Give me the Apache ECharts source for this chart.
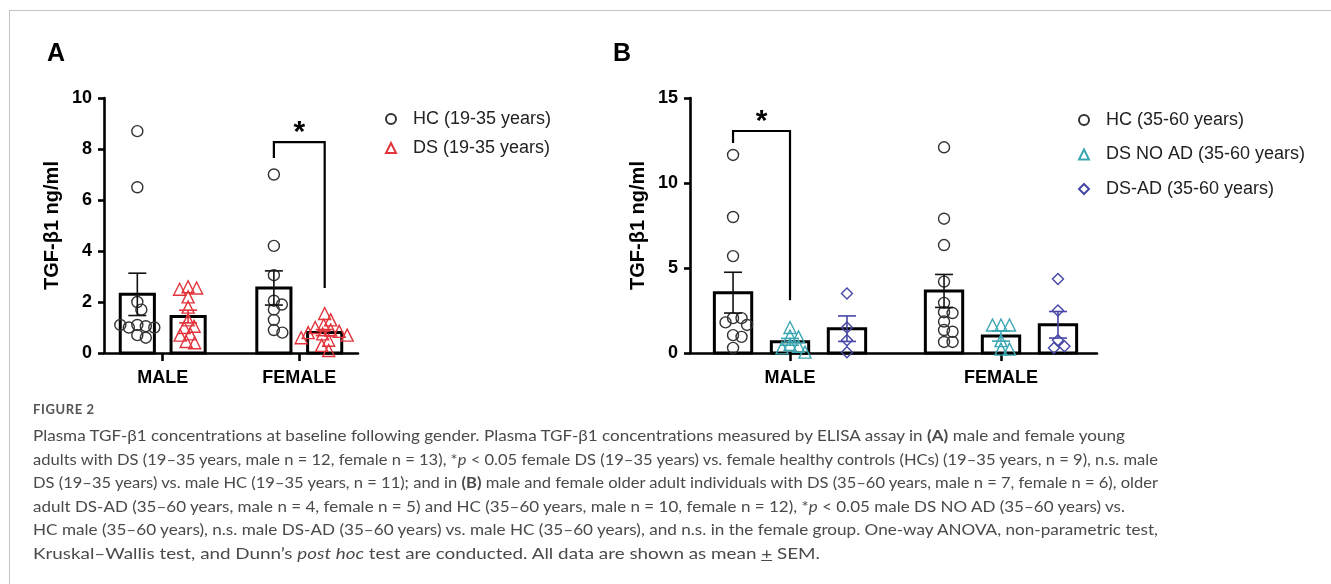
<!DOCTYPE html>
<html><head><meta charset="utf-8">
<script src="https://cdn.jsdelivr.net/npm/echarts@6/dist/echarts.min.js"></script>
<style>
html,body{margin:0;padding:0;background:#fff;}
#wrap{position:relative;width:1331px;height:584px;overflow:hidden;background:#fff;}
#frame{position:absolute;left:9px;top:10px;width:1400px;height:700px;border-top:1.5px solid #c4c4c4;border-left:1.5px solid #c4c4c4;}
#chart{position:absolute;left:0;top:0;width:1331px;height:584px;}
#caption{position:absolute;left:33px;top:399px;font-family:Lato,'Noto Sans',sans-serif;color:#4a4a4a;}
#caption .fig{font-size:13px;letter-spacing:0.6px;font-weight:bold;color:#555;height:24px;line-height:20px;}
#caption .ln{font-size:16px;line-height:23.5px;white-space:nowrap;transform-origin:0 50%;display:block;width:max-content;font-variant-ligatures:none;}
</style></head>
<body><div id="wrap"><div id="frame"></div><div id="chart"></div>
<div id="caption">
<div class="fig">FIGURE 2</div>
<span class="ln">Plasma TGF-β1 concentrations at baseline following gender. Plasma TGF-β1 concentrations measured by ELISA assay in <b>(A)</b> male and female young</span>
<span class="ln">adults with DS (19–35 years, male n = 12, female n = 13), *<i>p</i> &lt; 0.05 female DS (19–35 years) vs. female healthy controls (HCs) (19–35 years, n = 9), n.s. male</span>
<span class="ln">DS (19–35 years) vs. male HC (19–35 years, n = 11); and in <b>(B)</b> male and female older adult individuals with DS (35–60 years, male n = 7, female n = 6), older</span>
<span class="ln">adult DS-AD (35–60 years, male n = 4, female n = 5) and HC (35–60 years, male n = 10, female n = 12), *<i>p</i> &lt; 0.05 male DS NO AD (35–60 years) vs.</span>
<span class="ln">HC male (35–60 years), n.s. male DS-AD (35–60 years) vs. male HC (35–60 years), and n.s. in the female group. One-way ANOVA, non-parametric test,</span>
<span class="ln">Kruskal–Wallis test, and Dunn’s <i>post hoc</i> test are conducted. All data are shown as mean <u>+</u> SEM.</span>
</div></div>
<script>
// ---------------- DATA ----------------
const categories = ['MALE', 'FEMALE'];
const legendA = ['HC (19-35 years)', 'DS (19-35 years)'];
const legendB = ['HC (35-60 years)', 'DS NO AD (35-60 years)', 'DS-AD (35-60 years)'];
const yTicksA = [0, 2, 4, 6, 8, 10];
const yTicksB = [0, 5, 10, 15];
const yTitle = 'TGF-β1 ng/ml';

// Panel A individual values [MALE, FEMALE]
const aHC = [[8.7, 6.5, 2.0, 1.7, 1.1, 1.05, 1.0, 1.0, 1.1, 0.7, 0.6],
             [7.0, 4.2, 3.05, 2.05, 1.9, 1.7, 1.3, 0.9, 0.8]];
const aDS = [[2.6, 2.55, 2.5, 2.2, 1.8, 1.3, 1.05, 1.0, 0.75, 0.7, 0.45, 0.4],
             [1.55, 1.3, 1.1, 1.0, 0.9, 0.85, 0.8, 0.75, 0.7, 0.6, 0.5, 0.3, 0.1]];
const aHCMean = [2.3, 2.55], aHCSem = [0.83, 0.67];
const aDSMean = [1.43, 0.8], aDSSem = [0.25, 0.12];

// Panel B individual values [MALE, FEMALE]
const bHC = [[11.65, 8.0, 5.7, 2.05, 2.05, 1.8, 1.65, 1.05, 0.95, 0.3],
             [12.1, 7.9, 6.35, 4.2, 2.95, 2.4, 2.35, 1.85, 1.35, 1.25, 0.65, 0.65]];
const bNoAD = [[1.5, 1.0, 0.95, 0.5, 0.4, 0.3, 0.05],
               [1.65, 1.65, 1.65, 0.73, 0.23, 0.23]];
const bAD = [[3.5, 1.5, 0.75, 0.05],
             [4.35, 2.5, 0.75, 0.4, 0.3]];
const bHCMean = [3.55, 3.65], bHCSem = [1.2, 0.97];
const bNoADMean = [0.66, 1.0], bNoADSem = [0.2, 0.3];
const bADMean = [1.43, 1.66], bADSem = [0.75, 0.78];

// significance brackets: [category, group from, group to, bracket y, left end y, right end y]
const sigA = [1, 0, 1, 8.27, 7.65, 2.55];
const sigB = [0, 0, 1, 13.06, 12.35, 3.1];
const sigLabel = '*';

// ---------------- LAYOUT / STYLE ----------------
const FONT = "'Liberation Sans', Arial, sans-serif";
const gA = {left: 104, top: 98, width: 254, height: 255, xmin: -0.43, xmax: 1.43, ymax: 10, interval: 2,
            offsets: [-0.186, 0.186], bw: 0.25};
const gB = {left: 690, top: 98, width: 407, height: 255, xmin: -0.474, xmax: 1.455, ymax: 15, interval: 5,
            offsets: [-0.27, 0, 0.27], bw: 0.177};

function swarm(vals, pxX, pxY, dia) {
  const placed = [];
  return vals.map(v => {
    const y = v * pxY;
    let best = 0;
    for (let k = 0; k < 400; k++) {
      const o = (k % 2 ? 1 : -1) * Math.ceil(k / 2) * 0.5;
      if (placed.every(p => Math.hypot(p.x - o, p.y - y) >= dia)) { best = o; break; }
    }
    placed.push({x: best, y: y});
    return best / pxX;
  });
}

const series = [];
function addGroup(g, gi, name, pts, means, sems, gIdx, sym, color, size) {
  const pxX = g.width / (g.xmax - g.xmin), pxY = g.height / g.ymax;
  const off = g.offsets[gIdx];
  series.push({
    type: 'custom', xAxisIndex: gi, yAxisIndex: gi, z: 2, silent: true,
    data: means.map((m, i) => [i, m]),
    renderItem: (params, api) => {
      const c = api.value(0) + off, m = api.value(1);
      const p0 = api.coord([c - g.bw / 2, m]), p1 = api.coord([c + g.bw / 2, 0]);
      return {type: 'rect', shape: {x: p0[0], y: p0[1], width: p1[0] - p0[0], height: p1[1] - p0[1]},
              style: {fill: '#fff', stroke: '#000', lineWidth: 3}};
    }
  });
  const data = [];
  pts.forEach((arr, ci) => {
    const jit = swarm(arr, pxX, pxY, 8.5);
    arr.forEach((v, j) => data.push([ci + off + jit[j], v]));
  });
  series.push({
    type: 'scatter', name: name, xAxisIndex: gi, yAxisIndex: gi, z: 3, silent: true,
    symbol: sym, symbolSize: size, data: data,
    itemStyle: {color: 'rgba(255,255,255,0)', borderColor: color, borderWidth: 1.4, opacity: 1}
  });
  const ecol = gIdx === 0 ? '#111' : color;
  series.push({
    type: 'custom', xAxisIndex: gi, yAxisIndex: gi, z: 4, silent: true,
    data: means.map((m, i) => [i, m, sems[i]]),
    renderItem: (params, api) => {
      const c = api.value(0) + off, m = api.value(1), s = api.value(2);
      const t = api.coord([c, m + s]), b = api.coord([c, m - s]);
      const hw = 9;
      const ls = {stroke: ecol, lineWidth: 1.6};
      return {type: 'group', children: [
        {type: 'line', shape: {x1: t[0], y1: t[1], x2: b[0], y2: b[1]}, style: ls},
        {type: 'line', shape: {x1: t[0] - hw, y1: t[1], x2: t[0] + hw, y2: t[1]}, style: ls},
        {type: 'line', shape: {x1: b[0] - hw, y1: b[1], x2: b[0] + hw, y2: b[1]}, style: ls}
      ]};
    }
  });
}

function addSig(g, gi, sig) {
  series.push({
    type: 'custom', xAxisIndex: gi, yAxisIndex: gi, z: 5, silent: true,
    data: [sig],
    renderItem: (params, api) => {
      const ci = api.value(0);
      const x1 = ci + g.offsets[api.value(1)], x2 = ci + g.offsets[api.value(2)];
      const yb = api.value(3);
      const a = api.coord([x1, api.value(4)]), b = api.coord([x1, yb]), c = api.coord([x2, yb]), d = api.coord([x2, api.value(5)]);
      const mid = api.coord([(x1 + x2) / 2, yb]);
      return {type: 'group', children: [
        {type: 'polyline', shape: {points: [a, b, c, d]}, style: {stroke: '#000', lineWidth: 2.2, fill: null}},
        {type: 'text', x: mid[0], y: mid[1] + 6, style: {text: sigLabel, font: 'bold 30px ' + FONT, fill: '#000', align: 'center', verticalAlign: 'bottom'}}
      ]};
    }
  });
}

addGroup(gA, 0, legendA[0], aHC, aHCMean, aHCSem, 0, 'circle', '#333', 11);
addGroup(gA, 0, legendA[1], aDS, aDSMean, aDSSem, 1, 'triangle', '#e2343c', 12);
addGroup(gB, 1, legendB[0], bHC, bHCMean, bHCSem, 0, 'circle', '#333', 11);
addGroup(gB, 1, legendB[1], bNoAD, bNoADMean, bNoADSem, 1, 'triangle', '#3aa7b3', 12);
addGroup(gB, 1, legendB[2], bAD, bADMean, bADSem, 2, 'diamond', '#4646a6', 11);
addSig(gA, 0, sigA);
addSig(gB, 1, sigB);

function xAxisFor(g, gi) {
  return {type: 'value', gridIndex: gi, min: g.xmin, max: g.xmax,
    axisLine: {show: true, onZero: false, lineStyle: {color: '#000', width: 2.6}},
    axisTick: {show: true, customValues: [0, 1], length: 8, lineStyle: {color: '#000', width: 2.6}},
    axisLabel: {show: true, customValues: [0, 1], formatter: v => categories[Math.round(v)],
                fontSize: 18, fontWeight: 'bold', color: '#000', fontFamily: FONT, margin: 16},
    splitLine: {show: false}};
}
function yAxisFor(g, gi, ticks) {
  return {type: 'value', gridIndex: gi, min: ticks[0], max: ticks[ticks.length - 1], interval: g.interval,
    axisLine: {show: true, onZero: false, lineStyle: {color: '#000', width: 2.6}},
    axisTick: {show: true, length: 6, lineStyle: {color: '#000', width: 2.6}},
    axisLabel: {fontSize: 18, fontWeight: 'bold', color: '#000', fontFamily: FONT, margin: 12},
    splitLine: {show: false},
    name: yTitle, nameLocation: 'middle', nameRotate: 90, nameGap: 42,
    nameTextStyle: {fontSize: 20, fontWeight: 'bold', color: '#000', fontFamily: FONT}};
}
function legendFor(names, left, top, gap) {
  return {orient: 'vertical', left: left, top: top, itemWidth: 10, itemHeight: 10, itemGap: gap,
    selectedMode: false, data: names,
    textStyle: {fontSize: 18, color: '#222', fontFamily: FONT, lineHeight: 20, padding: [0, 0, 0, 12]}};
}

const chart = echarts.init(document.getElementById('chart'), null, {renderer: 'canvas'});
chart.setOption({
  animation: false,
  grid: [{left: gA.left, top: gA.top, width: gA.width, height: gA.height},
         {left: gB.left, top: gB.top, width: gB.width, height: gB.height}],
  xAxis: [xAxisFor(gA, 0), xAxisFor(gB, 1)],
  yAxis: [yAxisFor(gA, 0, yTicksA), yAxisFor(gB, 1, yTicksB)],
  legend: [legendFor(legendA, 380, 104, 9), legendFor(legendB, 1073, 105, 14.5)],
  graphic: [
    {type: 'text', left: 47, top: 42, style: {text: 'A', font: 'bold 25px ' + FONT, fill: '#000'}},
    {type: 'text', left: 613, top: 42, style: {text: 'B', font: 'bold 25px ' + FONT, fill: '#000'}}
  ],
  series: series
});

const targets = [1092, 1125, 1125, 1092, 1125, 787];
document.querySelectorAll('#caption .ln').forEach((el, i) => {
  const w = el.getBoundingClientRect().width;
  el.style.transform = 'scaleX(' + (targets[i] / w) + ')';
});
</script>
</body></html>
